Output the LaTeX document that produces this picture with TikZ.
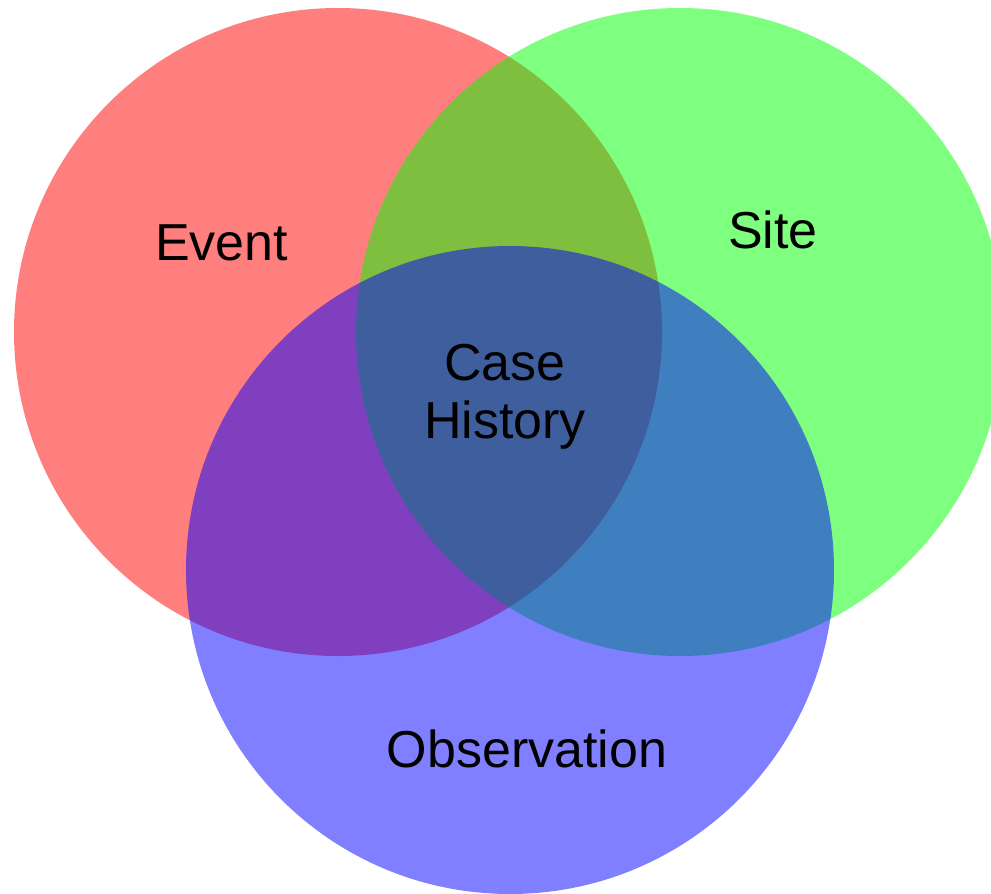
\documentclass[tikz,border=0pt]{standalone}
\usepackage{fontspec}
\setmainfont{Liberation Sans}
\usepackage{xcolor}
\definecolor{eventred}{HTML}{FF0000}
\definecolor{sitegreen}{HTML}{00FF00}
\definecolor{obsblue}{HTML}{0000FF}

\tikzset{
  setcircle/.style={fill=#1, fill opacity=0.5, draw=none},
  setlabel/.style={font=\fontsize{52}{58}\selectfont, inner sep=0pt, text=black}
}

\begin{document}
\begin{tikzpicture}[x=1pt, y=-1pt]
  \useasboundingbox (0,0) rectangle (991,894);
  \clip (0,0) rectangle (991,894);

  % The three sets
  \fill[setcircle=eventred]  (338,332) circle (324);
  \fill[setcircle=sitegreen] (680,332) circle (324);
  \fill[setcircle=obsblue]   (510,570) circle (324);

  % Set names
  \node[setlabel, anchor=base] (event) at (221.5,260) {Event};
  \node[setlabel, anchor=base] (site)  at (773,248)   {Site};
  \node[setlabel, anchor=base] (obs)   at (527,767)   {Observation};

  % Intersection of all three
  \node[setlabel, align=center] (casehist) at (505,397) {Case\\History};
\end{tikzpicture}
\end{document}
